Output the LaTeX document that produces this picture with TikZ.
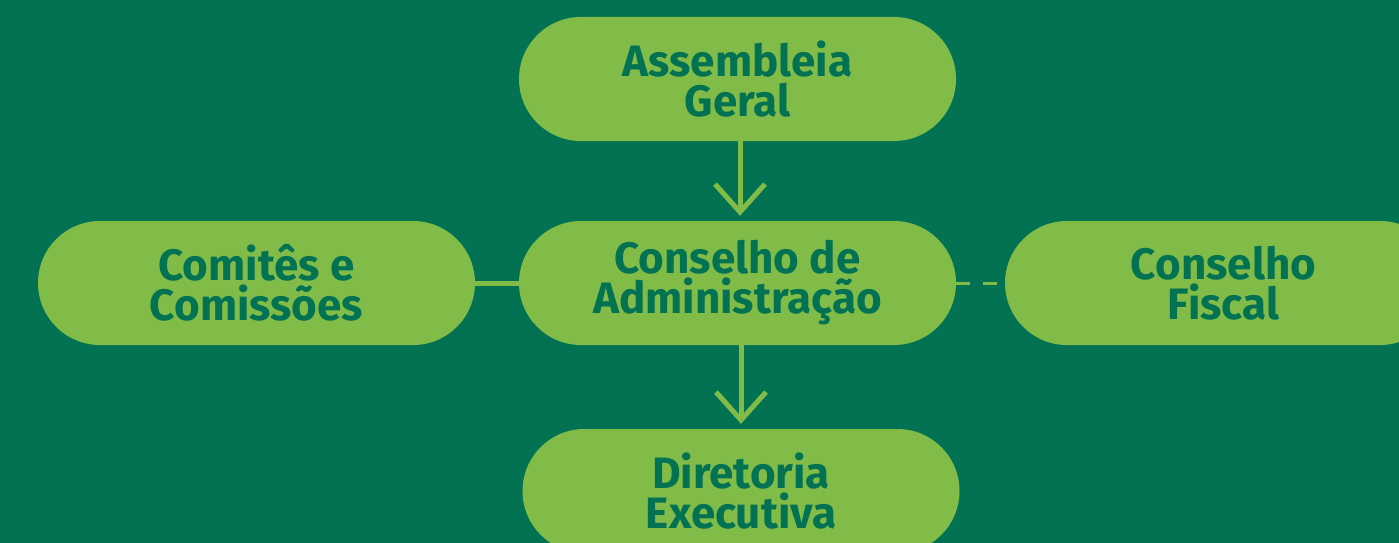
\documentclass[tikz,border=0pt]{standalone}
\usepackage{fontspec}
\setmainfont{Fira Sans}
\usetikzlibrary{arrows.meta}
\definecolor{fundo}{HTML}{027253}
\definecolor{claro}{HTML}{80BC47}

\tikzset{
  caixa/.style={fill=claro,text=fundo,minimum width=437pt,minimum height=124pt,
    rounded corners=62pt,align=center,inner sep=0pt,
    font=\fontsize{44}{40}\selectfont\bfseries},
  seta/.style={draw=claro,line width=5pt,shorten >=5pt,
    -{Straight Barb[length=28pt,width=50pt,line width=5pt]}},
}

\begin{document}
\begin{tikzpicture}[x=1pt,y=-1pt]
\fill[fundo] (0,0) rectangle (1399,543);
\useasboundingbox (0,0) rectangle (1399,543);
% caixas
\node[caixa] (ag) at (737.5,79) {Assembleia\\Geral};
\node[caixa] (ca) at (737.5,283) {Conselho de\\Administração};
\node[caixa] (cc) at (256.5,283) {Comitês e\\Comissões};
\node[caixa] (cf) at (1223.5,283) {Conselho\\Fiscal};
\node[caixa] (de) at (741,491) {Diretoria\\Executiva};
% ligacoes
\draw[seta] (ag.south -| 740,0) -- (ca.north -| 740,0);
\draw[seta] (ca.south -| 741,0) -- (de.north -| 741,0);
\draw[claro,line width=5pt] (cc.east) -- (ca.west);
\draw[claro,line width=3pt,dash pattern=on 14pt off 13pt] (ca.east) -- (cf.west);
\end{tikzpicture}
\end{document}
